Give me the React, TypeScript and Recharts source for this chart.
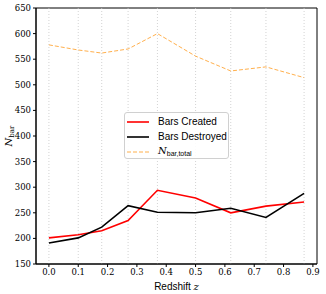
import { LineChart, Line, XAxis, YAxis, ReferenceLine, ReferenceArea } from "recharts";

const redshift = [0.0, 0.1, 0.18, 0.27, 0.37, 0.5, 0.62, 0.74, 0.87];
const barsCreated = [201, 207, 215, 235, 294, 279, 250, 263, 271];
const barsDestroyed = [191, 201, 222, 264, 251, 250, 259, 241, 288];
const barsTotal = [578, 568, 562, 570, 600, 556, 527, 535, 514];

const xTicks = [0, 0.1, 0.2, 0.3, 0.4, 0.5, 0.6, 0.7, 0.8, 0.9];
const yTicks = [150, 200, 250, 300, 350, 400, 450, 500, 550, 600, 650];

const data = redshift.map((z, i) => ({
  z,
  created: barsCreated[i],
  destroyed: barsDestroyed[i],
  total: barsTotal[i],
}));

const serif = "'DejaVu Serif', 'Liberation Serif', serif";
const sans = "'Liberation Sans', Arial, sans-serif";

const legendItems = [
  { label: "Bars Created", color: "#ff0000", dash: undefined },
  { label: "Bars Destroyed", color: "#000000", dash: undefined },
  { label: "total", color: "#ffb04d", dash: "4 2" },
];

const LegendBox = () => (
  <div
    style={{
      position: "absolute",
      left: 124,
      top: 112,
      width: 105,
      height: 47,
      border: "1px solid #d0d0d0",
      borderRadius: 3,
      background: "rgba(255,255,255,0.9)",
      fontFamily: sans,
      fontSize: 10,
      boxSizing: "border-box",
      paddingTop: 1,
      whiteSpace: "nowrap",
      lineHeight: "14px",
    }}
  >
    {legendItems.map((e, i) => (
      <div key={i} style={{ display: "flex", alignItems: "center", height: 15 }}>
        <svg width={31} height={10} style={{ marginLeft: 2, flex: "none" }}>
          <line
            x1={0}
            x2={22}
            y1={5}
            y2={5}
            stroke={e.color}
            strokeWidth={e.dash ? 1 : 1.6}
            strokeDasharray={e.dash}
          />
        </svg>
        {e.dash ? (
          <span style={{ fontFamily: serif }}>
            <i>N</i>
            <span style={{ fontFamily: sans, fontSize: 7, position: "relative", top: 2 }}>bar,total</span>
          </span>
        ) : (
          <span>{e.label}</span>
        )}
      </div>
    ))}
  </div>
);

export default function App() {
  return (
    <div style={{ position: "fixed", left: 0, top: 0, width: 326, height: 294, background: "#fff" }}>
      <LineChart
        width={326}
        height={294}
        data={data}
        margin={{ top: 8, right: 9, left: 0, bottom: 0 }}
      >
        {redshift.map((z) => (
          <ReferenceLine
            key={z}
            x={z}
            stroke="#c8c8c8"
            strokeDasharray="1 2"
            strokeWidth={0.8}
          />
        ))}
        <XAxis
          dataKey="z"
          type="number"
          domain={[-0.044, 0.914]}
          ticks={xTicks}
          tickFormatter={(v: number) => v.toFixed(1)}
          height={30}
          tickSize={3}
          tickLine={{ stroke: "#000" }}
          axisLine={{ stroke: "#000" }}
          tick={{ fontFamily: serif, fontSize: 8.5, fill: "#000" }}
          label={({ viewBox }: any) => (
            <text
              x={viewBox.x + viewBox.width / 2}
              y={viewBox.y + 26}
              textAnchor="middle"
              fontFamily={sans}
              fontSize={10}
              fill="#000"
            >
              Redshift{" "}
              <tspan fontFamily={serif} fontStyle="italic">
                z
              </tspan>
            </text>
          )}
        />
        <YAxis
          type="number"
          domain={[150, 650]}
          ticks={yTicks}
          width={36}
          tickSize={3}
          tickLine={{ stroke: "#000" }}
          axisLine={{ stroke: "#000" }}
          tick={{ fontFamily: serif, fontSize: 8.5, fill: "#000" }}
          label={({ viewBox }: any) => (
            <text
              x={12}
              y={viewBox.y + viewBox.height / 2}
              transform={`rotate(-90, 12, ${viewBox.y + viewBox.height / 2})`}
              textAnchor="middle"
              fontFamily={serif}
              fontSize={10}
              fill="#000"
            >
              <tspan fontStyle="italic">N</tspan>
              <tspan fontSize={7} dy={2}>
                bar
              </tspan>
            </text>
          )}
        />
        <ReferenceArea
          x1={-0.044}
          x2={0.914}
          y1={150}
          y2={650}
          fill="none"
          stroke="#000"
          strokeWidth={1}
          ifOverflow="visible"
        />
        <Line
          dataKey="total"
          stroke="#ffb04d"
          strokeWidth={1}
          strokeDasharray="4 2"
          dot={false}
          isAnimationActive={false}
        />
        <Line
          dataKey="created"
          stroke="#ff0000"
          strokeWidth={1.6}
          dot={false}
          isAnimationActive={false}
        />
        <Line
          dataKey="destroyed"
          stroke="#000000"
          strokeWidth={1.6}
          dot={false}
          isAnimationActive={false}
        />
      </LineChart>
      <LegendBox />
    </div>
  );
}
